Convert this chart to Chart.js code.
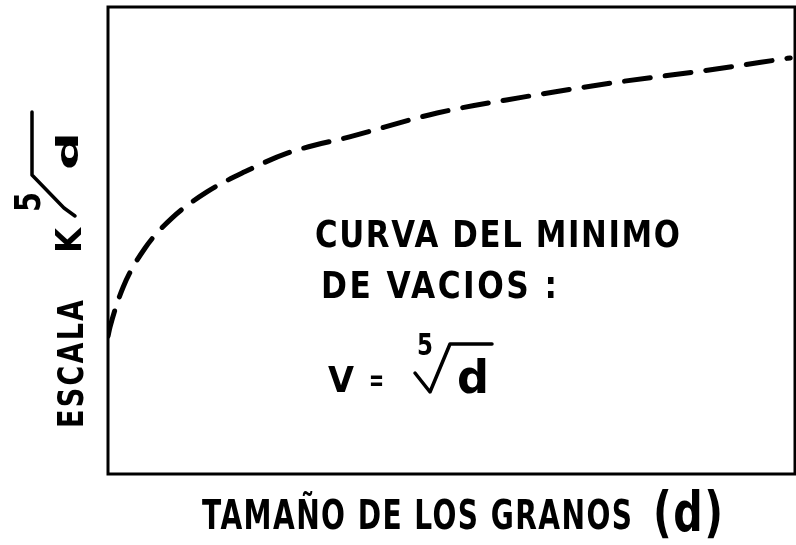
<!DOCTYPE html>
<html lang="es">
<head>
<meta charset="UTF-8">
<title>Curva del minimo de vacios</title>
<style>
html, body { margin: 0; padding: 0; background: #fff; }
#wrap { width: 796px; height: 545px; }
</style>
</head>
<body>
<div id="wrap"><canvas id="chart" width="796" height="545"></canvas></div>

<script src="https://cdn.jsdelivr.net/npm/chart.js"></script>
<script>
// values (x = grain size, y = scale K*d^(1/5), both 0..100)
const grainSize = [0, 0.3, 2.2, 5.4, 9.3, 14.4, 19.9, 26.1, 35.7, 47.9, 60.4, 74.1, 86.5, 99.3];
const scaleValue = [29.5, 31.5, 40.0, 48.4, 54.8, 60.4, 64.7, 68.7, 72.4, 77.3, 80.7, 83.9, 86.3, 89.1];

const xTitle = 'TAMAÑO DE LOS GRANOS';
const yTitle = 'ESCALA';
const noteLines = ['CURVA DEL MINIMO', 'DE VACIOS :'];

const FONT = '"DejaVu Sans", sans-serif';

// draw a string squeezed/stretched to a given width, with some letter spacing
function fitText(ctx, txt, x, y, w, px, sp) {
    ctx.font = `bold ${px}px ${FONT}`;
    ctx.letterSpacing = (sp || 0) + 'px';
    const m = ctx.measureText(txt).width - (sp || 0);
    ctx.save();
    ctx.translate(x, y);
    ctx.scale(w / m, 1);
    ctx.fillText(txt, 0, 0);
    ctx.restore();
    ctx.letterSpacing = '0px';
}

const paperPlugin = {
    id: 'paper',
    afterDatasetsDraw(chart) {
        const ctx = chart.ctx;
        const a = chart.chartArea;
        ctx.save();
        ctx.strokeStyle = '#000';
        ctx.fillStyle = '#000';
        ctx.lineWidth = 3;
        ctx.strokeRect(a.left, a.top, a.right - a.left, a.bottom - a.top);

        ctx.textBaseline = 'alphabetic';
        ctx.lineCap = 'round';
        ctx.lineJoin = 'round';

        // note inside the box
        fitText(ctx, noteLines[0], 315, 247, 365, 38, 2);
        fitText(ctx, noteLines[1], 321, 298, 236, 38, 3);
        fitText(ctx, 'V', 328, 392, 26, 36);
        fitText(ctx, '=', 369, 390, 15, 30);
        fitText(ctx, '5', 417, 355, 16, 30);
        ctx.lineWidth = 3.5;
        ctx.beginPath();
        ctx.moveTo(415, 373);
        ctx.lineTo(430, 392);
        ctx.lineTo(450, 344);
        ctx.lineTo(492, 344);
        ctx.stroke();
        fitText(ctx, 'd', 457, 393, 32, 46);

        // x axis title
        fitText(ctx, xTitle, 202, 529, 430, 40, 2);
        fitText(ctx, '(d)', 653, 531, 70, 56, 2);

        // y axis title, rotated
        ctx.save();
        ctx.translate(83, 428);
        ctx.rotate(-Math.PI / 2);
        fitText(ctx, yTitle, 0, 0, 128, 36, 3);
        fitText(ctx, 'K', 175, -2, 25, 36);
        fitText(ctx, '5', 216, -43, 20, 36);
        ctx.lineWidth = 3.5;
        ctx.beginPath();
        ctx.moveTo(212, -8);
        ctx.lineTo(220, -19);
        ctx.lineTo(253, -51);
        ctx.lineTo(316, -51);
        ctx.stroke();
        fitText(ctx, 'd', 258, -5, 38, 31);
        ctx.restore();

        ctx.restore();
    }
};

new Chart(document.getElementById('chart'), {
    type: 'scatter',
    data: {
        datasets: [{
            data: grainSize.map((x, i) => ({ x: x, y: scaleValue[i] })),
            showLine: true,
            borderColor: '#000',
            borderWidth: 5,
            borderDash: [26, 15],
            borderCapStyle: 'round',
            pointRadius: 0,
            cubicInterpolationMode: 'monotone',
            fill: false
        }]
    },
    options: {
        responsive: false,
        animation: false,
        layout: { padding: { left: 108, top: 7, right: 1, bottom: 71 } },
        plugins: { legend: { display: false }, tooltip: { enabled: false } },
        scales: {
            x: { type: 'linear', min: 0, max: 100, display: false },
            y: { min: 0, max: 100, display: false }
        }
    },
    plugins: [paperPlugin]
});
</script>
</body>
</html>
